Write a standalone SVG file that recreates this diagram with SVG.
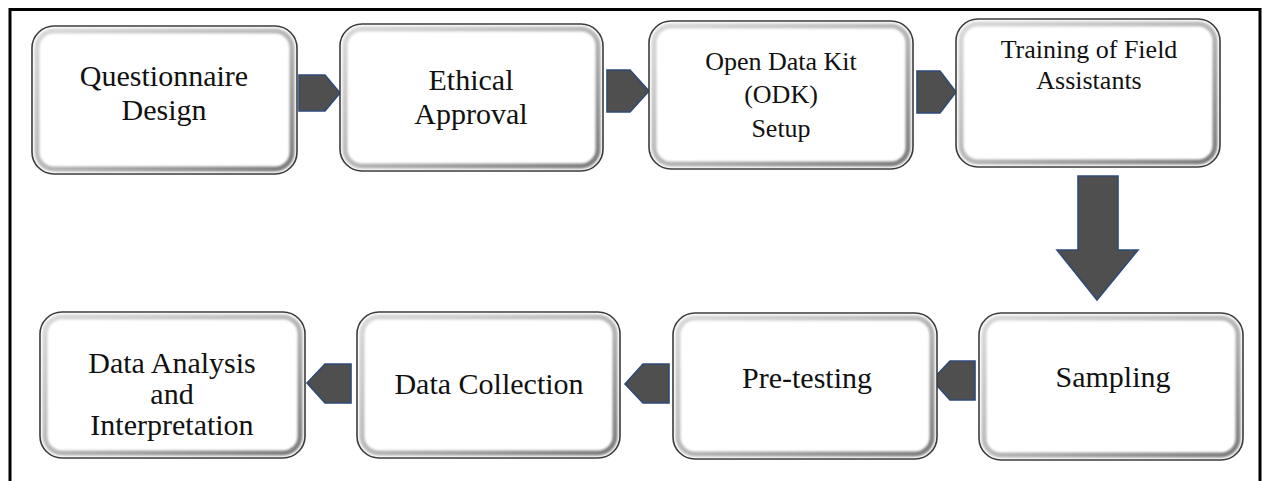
<svg xmlns="http://www.w3.org/2000/svg" width="1262" height="481" viewBox="0 0 1262 481">
<defs>
<linearGradient id="bev" x1="0" y1="0" x2="1" y2="1">
<stop offset="0" stop-color="#d9d9d9"/>
<stop offset="0.5" stop-color="#b8b8b8"/>
<stop offset="1" stop-color="#7a7a7a"/>
</linearGradient>
<filter id="soft" x="-5%" y="-5%" width="110%" height="110%">
<feGaussianBlur stdDeviation="1.3"/>
</filter>
<style>
.outer{fill:#ffffff;stroke:#3a3a3a;stroke-width:1.6}
.bevel{fill:none;stroke:url(#bev);stroke-width:5}
.t{font-family:'Liberation Serif','DejaVu Serif',serif;font-size:30px;fill:#111;text-anchor:middle}
.s{font-size:26px}
.arr{fill:#4f4f4f;stroke:#2e4a78;stroke-width:1.6;stroke-linejoin:miter}
.frame{fill:none;stroke:#000;stroke-width:3}
</style>
</defs>
<rect width="1262" height="481" fill="#ffffff"/>
<rect class="frame" x="10" y="9.5" width="1250" height="520"/>

<g id="connectors">
<polygon class="arr" points="299,75 325,75 340,93 325,111 299,111"/>
<polygon class="arr" points="607,70 630,70 649,91 630,112 607,112"/>
<polygon class="arr" points="917,71 940,71 956,92 940,113 917,113"/>
<polygon class="arr" points="1078,176 1118,176 1118,250 1138,250 1097,300 1057,250 1078,250"/>
<polygon class="arr" points="975,361 950,361 932,380 950,400 975,400"/>
<polygon class="arr" points="669,364 643,364 625,384 643,403 669,403"/>
<polygon class="arr" points="351,364 325,364 307,383 325,403 351,403"/>
</g>

<g font-family="Liberation Serif, DejaVu Serif, serif">
<g id="n1">
<rect class="outer" x="32" y="26" width="265" height="148" rx="22"/>
<rect class="bevel" x="37" y="31" width="255" height="138" rx="17" filter="url(#soft)"/>
<text class="t" x="164" y="86">Questionnaire</text>
<text class="t" x="164" y="120">Design</text>
</g>
<g id="n2">
<rect class="outer" x="340" y="24" width="263" height="147" rx="22"/>
<rect class="bevel" x="345" y="29" width="253" height="137" rx="17" filter="url(#soft)"/>
<text class="t" x="471" y="90">Ethical</text>
<text class="t" x="471" y="124">Approval</text>
</g>
<g id="n3">
<rect class="outer" x="649" y="21" width="264" height="148" rx="22"/>
<rect class="bevel" x="654" y="26" width="254" height="138" rx="17" filter="url(#soft)"/>
<text class="t s" x="781" y="70">Open Data Kit</text>
<text class="t s" x="781" y="103">(ODK)</text>
<text class="t s" x="781" y="137">Setup</text>
</g>
<g id="n4">
<rect class="outer" x="956" y="19" width="264" height="148" rx="22"/>
<rect class="bevel" x="961" y="24" width="254" height="138" rx="17" filter="url(#soft)"/>
<text class="t s" x="1089" y="58">Training of Field</text>
<text class="t s" x="1089" y="89">Assistants</text>
</g>
<g id="n5">
<rect class="outer" x="979" y="313" width="264" height="147" rx="22"/>
<rect class="bevel" x="984" y="318" width="254" height="137" rx="17" filter="url(#soft)"/>
<text class="t" x="1113" y="387">Sampling</text>
</g>
<g id="n6">
<rect class="outer" x="673" y="313" width="264" height="146" rx="22"/>
<rect class="bevel" x="678" y="318" width="254" height="136" rx="17" filter="url(#soft)"/>
<text class="t" x="807" y="388">Pre-testing</text>
</g>
<g id="n7">
<rect class="outer" x="357" y="312" width="263" height="146" rx="22"/>
<rect class="bevel" x="362" y="317" width="253" height="136" rx="17" filter="url(#soft)"/>
<text class="t" x="489" y="394">Data Collection</text>
</g>
<g id="n8">
<rect class="outer" x="40" y="312" width="265" height="146" rx="22"/>
<rect class="bevel" x="45" y="317" width="255" height="136" rx="17" filter="url(#soft)"/>
<text class="t" x="172" y="373">Data Analysis</text>
<text class="t" x="172" y="404">and</text>
<text class="t" x="172" y="435">Interpretation</text>
</g>
</g>
</svg>
